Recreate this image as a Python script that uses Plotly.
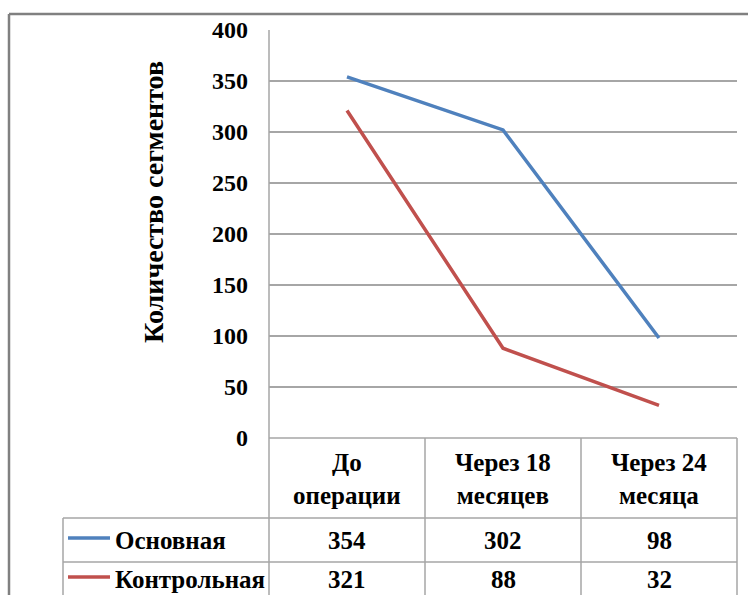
import plotly.graph_objects as go

# Data
categories = ["До<br>операции", "Через 18<br>месяцев", "Через 24<br>месяца"]
series_names = ["Основная", "Контрольная"]
main_values = [354, 302, 98]
control_values = [321, 88, 32]
y_ticks = [0, 50, 100, 150, 200, 250, 300, 350, 400]
y_title = "Количество сегментов"

W, H = 748, 595
colors = ["#4F81BD", "#C0504D"]
grid_color = "#A6A6A6"
font_family = "Liberation Serif"


def px(x):
    return x / W


def py(y):
    return 1 - y / H


# Pixel geometry of the plot area and the data table below it
left, right, top, zero_y = 269, 737, 30, 438
header_bottom, row1_bottom, row2_bottom = 518, 562, 606
legend_left = 63

x_pos = list(range(len(categories)))

fig = go.Figure()
for name, vals, col in zip(series_names, [main_values, control_values], colors):
    fig.add_trace(go.Scatter(
        x=x_pos, y=vals, mode="lines", name=name,
        line=dict(color=col, width=3.5), showlegend=False,
        cliponaxis=False,
    ))

fig.update_layout(
    width=W, height=H,
    margin=dict(l=0, r=0, t=0, b=0, pad=0),
    paper_bgcolor="white", plot_bgcolor="white",
    font=dict(family=font_family, color="black"),
    xaxis=dict(
        domain=[px(left), px(right)], range=[-0.5, len(categories) - 0.5],
        showgrid=False, zeroline=False, showticklabels=False, showline=False,
        ticks="", automargin=False, fixedrange=True,
    ),
    yaxis=dict(
        domain=[py(zero_y), py(top)], range=[0, 400],
        tickvals=y_ticks, ticktext=[f"<b>{v}</b>" for v in y_ticks],
        showgrid=True, gridcolor=grid_color, gridwidth=1.5,
        zeroline=False, showline=False,
        ticks="", ticklabelstandoff=20, automargin=False,
        tickfont=dict(family=font_family, size=24, color="black"),
        fixedrange=True,
    ),
)

shapes = []


def hline(x0, x1, y, color=grid_color, width=1.5):
    shapes.append(dict(type="line", xref="paper", yref="paper",
                       x0=px(x0), x1=px(x1), y0=py(y), y1=py(y),
                       line=dict(color=color, width=width)))


def vline(x, y0, y1, color=grid_color, width=1.5):
    shapes.append(dict(type="line", xref="paper", yref="paper",
                       x0=px(x), x1=px(x), y0=py(y0), y1=py(y1),
                       line=dict(color=color, width=width)))


# Outer chart border
vline(9, 14, 640, color="#808080", width=2.5)
hline(9, 760, 14, color="#808080", width=2.5)

# Vertical axis line running down through the table
vline(left, top, row2_bottom)
# Table grid
hline(left, right, zero_y)
hline(legend_left, right, header_bottom)
hline(legend_left, right, row1_bottom)
vline(legend_left, header_bottom, row2_bottom)
vline(right, zero_y, row2_bottom)
# Column separators between categories
for i in range(1, len(categories)):
    shapes.append(dict(type="line", xref="x", yref="paper",
                       x0=i - 0.5, x1=i - 0.5, y0=py(zero_y), y1=py(row2_bottom),
                       line=dict(color=grid_color, width=1.5)))

annotations = []


def bold(s):
    return "<br>".join(f"<b>{part}</b>" for part in s.split("<br>"))


def tfont(size=25):
    return dict(family=font_family, size=size, color="black")


# Axis title
annotations.append(dict(text=bold(y_title), xref="paper", yref="paper",
                        x=px(153), y=py(202), textangle=-90, showarrow=False,
                        font=tfont(28), xanchor="center", yanchor="middle"))

# Header row with category labels
for i, cat in enumerate(categories):
    annotations.append(dict(text=bold(cat), xref="x", yref="paper", x=i,
                            y=py((zero_y + header_bottom) / 2 + 1),
                            showarrow=False, font=tfont(),
                            xanchor="center", yanchor="middle"))

# Value rows with legend keys
row_centers = [(header_bottom + row1_bottom) / 2, 579]
for r, (name, vals, col) in enumerate(zip(series_names, [main_values, control_values], colors)):
    yc = row_centers[r]
    shapes.append(dict(type="line", xref="paper", yref="paper",
                       x0=px(68), x1=px(110), y0=py(yc - 2), y1=py(yc - 2),
                       line=dict(color=col, width=3.5)))
    annotations.append(dict(text=bold(name), xref="paper", yref="paper",
                            x=px(113), y=py(yc), showarrow=False, font=tfont(),
                            xanchor="left", yanchor="middle"))
    for i, v in enumerate(vals):
        annotations.append(dict(text=bold(str(v)), xref="x", yref="paper", x=i,
                                y=py(yc), showarrow=False, font=tfont(),
                                xanchor="center", yanchor="middle"))

fig.update_layout(shapes=shapes, annotations=annotations)

fig.write_html("out.html")
